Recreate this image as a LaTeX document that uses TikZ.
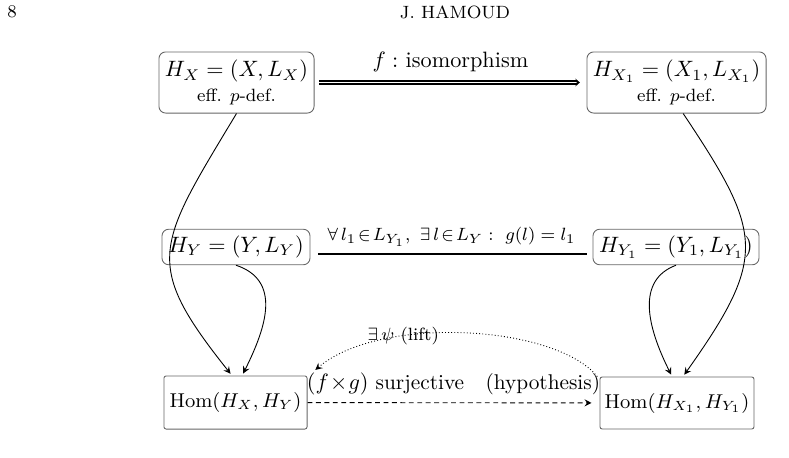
\documentclass[tikz,border=0pt]{standalone}
\usepackage{tikz}
\usetikzlibrary{arrows.meta,positioning}
\tikzset{>=stealth}
\tikzset{graphbox/.style={draw=black!60,rounded corners=3pt,align=center,inner sep=2pt},
homnode/.style={draw=black!60,rounded corners=1pt,inner sep=2pt,font=\small}}

\begin{document}
\begin{tikzpicture}[x=.45pt,y=.45pt]
\useasboundingbox (0,0) rectangle (789,-457);
% running head
\node (pg) at (12,-12) {\footnotesize 8};
\node (hd) at (455,-12) {\footnotesize J. HAMOUD};
% the four hypergraphs
\node[graphbox,minimum width=69.8pt,minimum height=27.5pt] (hx) at (236.5,-82.5) {$H_X=(X,L_X)$\\[-1pt]{\footnotesize eff. $p$-def.}};
\node[graphbox,minimum width=80.6pt,minimum height=27.5pt] (hx1) at (676.5,-82.5) {$H_{X_1}=(X_1,L_{X_1})$\\[-1pt]{\footnotesize eff. $p$-def.}};
\node[graphbox,minimum width=66.6pt,minimum height=16pt] (hy) at (236,-247) {$H_Y=(Y,L_Y)$};
\node[graphbox,minimum width=74.7pt,minimum height=16pt] (hy1) at (676,-247) {$H_{Y_1}=(Y_1,L_{Y_1})$};
% hom sets
\node[homnode,minimum width=64.4pt,minimum height=23.9pt] (hom) at (235.5,-402.5) {$\mathrm{Hom}(H_X,H_Y)$};
\node[homnode,minimum width=69.3pt,minimum height=23.4pt] (hom1) at (677,-403) {$\mathrm{Hom}(H_{X_1},H_{Y_1})$};
% top and middle rows
\draw[double,double distance=.8pt,line width=.6pt,-{Stealth[length=2pt,width=3.5pt]},shorten <=2pt,shorten >=3pt] (hx) -- node[above,yshift=1pt] {$f:$ isomorphism} (hx1);
\draw[thick,shorten <=3.6pt,shorten >=2.7pt] ([yshift=-3.1pt]hy.east) -- node[above,inner sep=3pt] {\footnotesize $\forall\,l_1\!\in\! L_{Y_1},\ \exists\,l\!\in\! L_Y:\ g(l)=l_1$} ([yshift=-3.1pt]hy1.west);
% down to the hom sets
\draw[->,shorten >=1pt] (hx.south) .. controls +(-80,-133) and +(-90,113) .. ([xshift=-1.6pt]hom.north);
\draw[->,shorten >=1pt] (hy.south) .. controls +(45,-15) and +(25,50) .. ([xshift=3pt]hom.north);
\draw[->,shorten >=1pt] ([xshift=3pt]hx1.south) .. controls +(80,-120) and +(85,120) .. ([xshift=2.7pt]hom1.north);
\draw[->,shorten >=1pt] (hy1.south) .. controls +(-40,-15) and +(-25,50) .. ([xshift=-2.2pt]hom1.north);
% bottom row
\draw[densely dotted,->] ([xshift=-1pt]hom1.north west) .. controls +(-43,52) and +(65,55) .. ([xshift=3.5pt,yshift=2.5pt]hom.north east) node[pos=.68,inner sep=0pt] {\footnotesize $\exists\,\psi$ (lift)};
\draw[dash pattern=on 2.2pt off 1.6pt,->,shorten >=3.6pt] (hom) -- node[above] {\fontsize{9.6pt}{11pt}\selectfont $(f\!\times\! g)$ surjective\quad(hypothesis)} (hom1);
\end{tikzpicture}
\end{document}
